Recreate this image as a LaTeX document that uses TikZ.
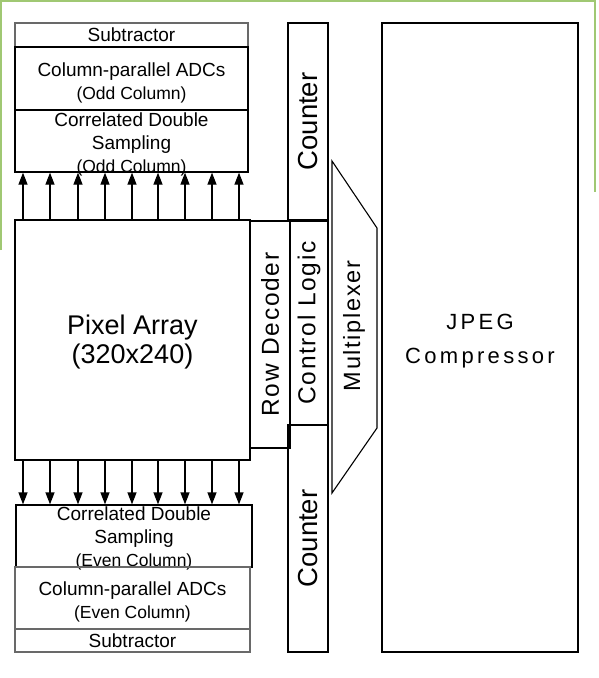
\documentclass[tikz,border=0pt]{standalone}
\usepackage{fontspec}
\setmainfont{Liberation Sans}
\newfontfamily\spacedFont[LetterSpace=7]{Liberation Sans}
\newfontfamily\wideFont[LetterSpace=15]{Liberation Sans}
\usepackage{tikz}
\usetikzlibrary{positioning,calc,arrows.meta}
\definecolor{frameGreen}{RGB}{160,200,115}
\definecolor{boxGray}{RGB}{105,105,105}
\newcommand{\colTxt}{\fontsize{19}{23}\selectfont}
\newcommand{\noteTxt}{\fontsize{17.5}{21}\selectfont}
\tikzset{
  block/.style={draw, line width=1.3pt, inner sep=0pt},
  grayblock/.style={block, draw=boxGray},
  blocktext/.style={inner sep=0pt, align=center, font=\colTxt},
  colArrow/.style={-{Triangle[length=12pt,width=9pt]}, line width=1.3pt},
}

\begin{document}
\begin{tikzpicture}[x=1pt,y=-1pt]
    \useasboundingbox (0,0) rectangle (598,678);
    % Frame
    \draw[frameGreen, line width=1.2pt] (1,250) -- (1,1) -- (595,1) -- (595,192);

    % Odd column readout
    \node[grayblock, minimum width=233, minimum height=24] (subodd) at (131.5,35) {};
    \node[blocktext] at (subodd.center) {Subtractor};
    \node[block, minimum width=233, minimum height=63] (adcodd) at (131.5,78.5) {};
    \node[blocktext, yshift=-4pt] at (adcodd.center) {Column-parallel ADCs\\{\noteTxt (Odd Column)}};
    \node[block, minimum width=233, minimum height=62] (cdsodd) at (131.5,141) {};
    \node[blocktext, yshift=-3pt] at (cdsodd.center) {Correlated Double\\Sampling\\{\noteTxt (Odd Column)}};

    % Pixel array
    \node[block, minimum width=235, minimum height=240] (pix) at (132.5,340) {};
    \node[blocktext, yshift=-2pt, font=\fontsize{27}{29}\selectfont] at (pix.center) {Pixel Array\\(320x240)};

    % Row decoder, control logic, counters
    \node[block, minimum width=40, minimum height=227] (rowdec) at (270,334.5) {};
    \node[rotate=90, font=\spacedFont\fontsize{24.5}{26}\selectfont] at (rowdec.center) {Row Decoder};
    \node[block, minimum width=40, minimum height=197] (cnttop) at (308,121.5) {};
    \node[rotate=90, font=\fontsize{27.5}{30}\selectfont] at (cnttop.center) {Counter};
    \node[block, minimum width=40, minimum height=227] (cntbot) at (308,538.5) {};
    \node[rotate=90, font=\fontsize{27.5}{30}\selectfont] at (cntbot.center) {Counter};
    \node[block, minimum width=38, minimum height=204] (ctrl) at (309,323) {};
    \node[rotate=90, font=\spacedFont\fontsize{24.5}{26}\selectfont] at (ctrl.center) {Control Logic};

    % Multiplexer
    \draw[line width=1.1pt] (332,161) -- (377,228) -- (377,428) -- (332,493) -- cycle;
    \node[rotate=90, font=\spacedFont\fontsize{23.5}{26}\selectfont] (mux) at (354,326) {Multiplexer};

    % JPEG compressor
    \node[block, minimum width=196, minimum height=629] (jpeg) at (480,337.5) {};
    \node[blocktext, yshift=-4pt, font=\wideFont\fontsize{22}{34}\selectfont] at (jpeg.center) {JPEG\\Compressor};

    % Even column readout
    \node[block, minimum width=236, minimum height=62] (cdseven) at (134,536) {};
    \node[blocktext, yshift=-2pt] at (cdseven.center) {Correlated Double\\Sampling\\{\noteTxt (Even Column)}};
    \node[grayblock, minimum width=235, minimum height=62] (adceven) at (132.5,598) {};
    \node[blocktext, yshift=-4pt] at (adceven.center) {Column-parallel ADCs\\{\noteTxt (Even Column)}};
    \node[grayblock, minimum width=235, minimum height=23] (subeven) at (132.5,640.5) {};
    \node[blocktext] at (subeven.center) {Subtractor};

    % Column lines
    \foreach \x in {23,50,78,105,132,158,185,212,239} {
        \draw[colArrow] (\x,0 |- pix.north) -- (\x,0 |- cdsodd.south);
        \draw[colArrow] (\x,0 |- pix.south) -- (\x,0 |- cdseven.north);
    }
\end{tikzpicture}
\end{document}
